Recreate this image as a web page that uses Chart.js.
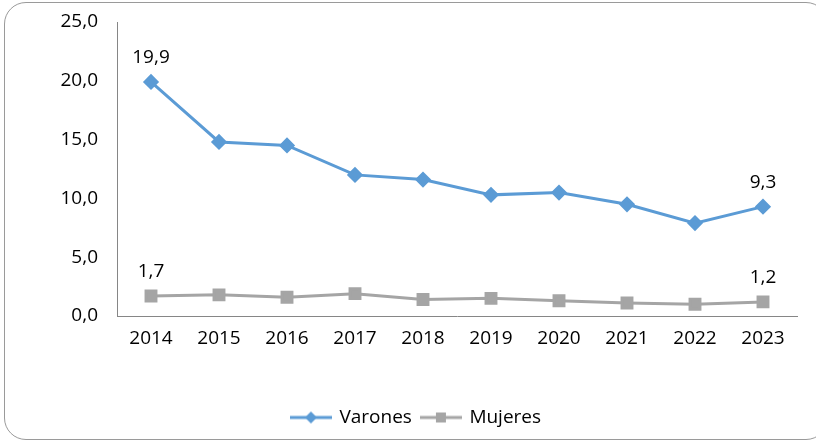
<!DOCTYPE html>
<html>
<head>
<meta charset="utf-8">
<script src="https://cdn.jsdelivr.net/npm/chart.js@4"></script>
<style>
  html, body { margin: 0; padding: 0; background: #fff; width: 816px; height: 441px; overflow: hidden; }
  #frame { position: absolute; left: 4px; top: 2px; width: 822px; height: 436px; border: 1.5px solid #9a9a9a; border-radius: 22px; }
  #wrap { position: absolute; left: 36px; top: 0; width: 780px; height: 441px; }
</style>
</head>
<body>
<div id="frame"></div>
<div id="wrap"><canvas id="c" width="780" height="441"></canvas></div>
<script>
const categories = ['2014','2015','2016','2017','2018','2019','2020','2021','2022','2023'];
const varones = [19.9, 14.8, 14.5, 12.0, 11.6, 10.3, 10.5, 9.5, 7.9, 9.3];
const mujeres = [1.7, 1.8, 1.6, 1.9, 1.4, 1.5, 1.3, 1.1, 1.0, 1.2];
const seriesNames = ['Varones', 'Mujeres'];
const yTicks = [0, 5, 10, 15, 20, 25];

const BLUE = '#5B9BD5';
const GRAY = '#A5A5A5';
const FONT = "'Open Sans', 'Liberation Sans', sans-serif";
const FS = 19;

function fmt(v) { return v.toFixed(1).replace('.', ','); }

function legendIcon(color, style) {
  const cv = document.createElement('canvas');
  cv.width = 42; cv.height = 14;
  const g = cv.getContext('2d');
  g.strokeStyle = color; g.lineWidth = 3;
  g.beginPath(); g.moveTo(0, 7); g.lineTo(42, 7); g.stroke();
  g.fillStyle = color;
  g.beginPath();
  if (style === 'diamond') {
    g.moveTo(21, 1); g.lineTo(27, 7); g.lineTo(21, 13); g.lineTo(15, 7); g.closePath();
  } else {
    g.rect(16, 2, 10, 10);
  }
  g.fill();
  return cv;
}
const icons = [legendIcon(BLUE, 'diamond'), legendIcon(GRAY, 'square')];

const labelPlugin = {
  id: 'endLabels',
  afterDatasetsDraw(chart) {
    const ctx = chart.ctx;
    ctx.save();
    ctx.font = FS + 'px ' + FONT;
    ctx.fillStyle = '#000';
    ctx.textAlign = 'center';
    ctx.textBaseline = 'middle';
    chart.data.datasets.forEach((ds, di) => {
      const meta = chart.getDatasetMeta(di);
      [0, ds.data.length - 1].forEach(i => {
        const p = meta.data[i];
        ctx.fillText(fmt(ds.data[i]), p.x, p.y - 24);
      });
    });
    ctx.restore();
  }
};

new Chart(document.getElementById('c'), {
  type: 'line',
  data: {
    labels: categories,
    datasets: [
      { label: seriesNames[0], data: varones, borderColor: BLUE, backgroundColor: BLUE, borderWidth: 3,
        pointStyle: 'rectRot', pointRadius: 6, pointHoverRadius: 6, tension: 0 },
      { label: seriesNames[1], data: mujeres, borderColor: GRAY, backgroundColor: GRAY, borderWidth: 3,
        pointStyle: 'rect', pointRadius: 7, pointHoverRadius: 7, tension: 0 }
    ]
  },
  options: {
    responsive: false,
    animation: false,
    layout: { padding: { top: 11, right: 19, bottom: 4, left: 0 } },
    plugins: {
      tooltip: { enabled: false },
      legend: {
        position: 'bottom',
        labels: {
          color: '#000',
          font: { family: FONT, size: FS },
          usePointStyle: true,
          pointStyleWidth: 38,
          padding: 10,
          generateLabels(chart) {
            return chart.data.datasets.map((ds, i) => ({
              text: ds.label, fillStyle: ds.borderColor, strokeStyle: ds.borderColor,
              lineWidth: 0, pointStyle: icons[i], datasetIndex: i, hidden: false
            }));
          }
        }
      }
    },
    scales: {
      x: {
        offset: true,
        grid: { display: false, drawTicks: false },
        border: { display: true, color: '#868686', width: 1 },
        ticks: { color: '#000', font: { family: FONT, size: FS }, padding: 11, maxRotation: 0 },
        afterFit(s) { s.height = 82; }
      },
      y: {
        min: 0, max: 25,
        grid: { display: false, drawTicks: false },
        border: { display: true, color: '#868686', width: 1 },
        afterBuildTicks(s) { s.ticks = yTicks.map(v => ({ value: v })); },
        ticks: { color: '#000', font: { family: FONT, size: FS }, padding: 19, callback: v => fmt(v) },
        afterFit(s) { s.width = 81; s.paddingTop = 22; s.paddingBottom = 11; }
      }
    }
  },
  plugins: [labelPlugin]
});
</script>
</body>
</html>
